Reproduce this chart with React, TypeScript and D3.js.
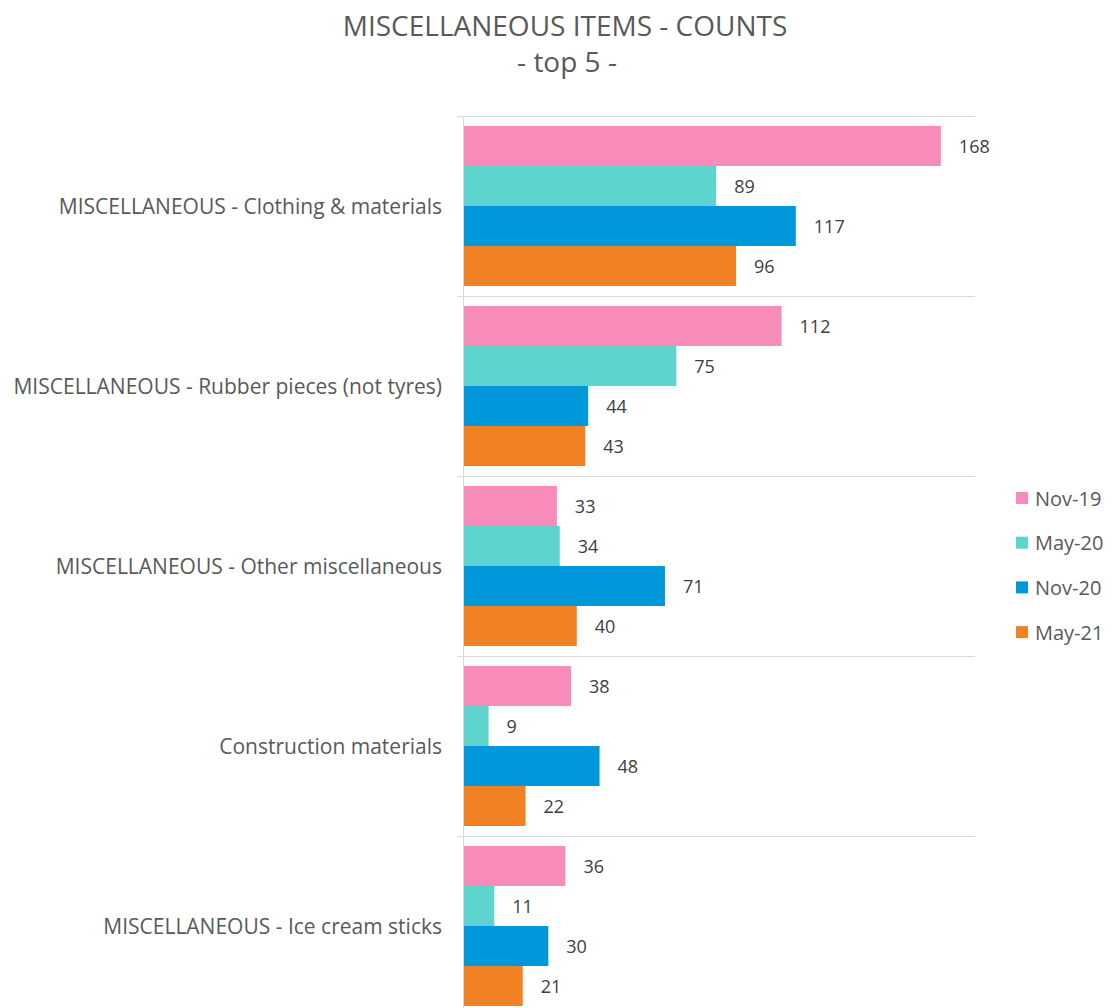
import React from "react";
import * as d3 from "d3";

const categories = [
  "MISCELLANEOUS - Clothing & materials",
  "MISCELLANEOUS - Rubber pieces (not tyres)",
  "MISCELLANEOUS - Other miscellaneous",
  "Construction materials",
  "MISCELLANEOUS - Ice cream sticks",
];
const seriesNames = ["Nov-19", "May-20", "Nov-20", "May-21"];
const nov19 = [168, 112, 33, 38, 36];
const may20 = [89, 75, 34, 9, 11];
const nov20 = [117, 44, 71, 48, 30];
const may21 = [96, 43, 40, 22, 21];
const seriesValues = [nov19, may20, nov20, may21];
const colors = ["#F78CBB", "#5DD4CE", "#0098DA", "#F08223"];
const xMax = 180;

const FONT = "'Open Sans', 'Liberation Sans', sans-serif";

export default function App() {
  const W = 1113;
  const H = 1008;
  const left = 463;
  const top = 116;
  const plotRight = 975;
  const bandH = 180;

  const x = d3.scaleLinear().domain([0, xMax]).range([left, plotRight]);
  const y = d3
    .scaleBand<string>()
    .domain(categories)
    .range([top, top + bandH * categories.length])
    .padding(0);
  const inner = d3
    .scaleBand<string>()
    .domain(seriesNames)
    .range([10, bandH - 10])
    .padding(0);

  const gridYs = [...categories.map((c) => y(c) as number), top + bandH * categories.length];

  return (
    <svg
      width={W}
      height={H}
      style={{ position: "absolute", left: 0, top: 0, background: "#fff" }}
      fontFamily={FONT}
    >
      <rect x={0} y={0} width={W} height={H} fill="#fff" />
      <text x={565} y={36} textAnchor="middle" fontSize={28} fill="#595959">
        MISCELLANEOUS ITEMS - COUNTS
      </text>
      <text x={567} y={72} textAnchor="middle" fontSize={28} fill="#595959">
        - top 5 -
      </text>

      {gridYs.map((gy, i) => (
        <line key={"g" + i} x1={457} x2={plotRight} y1={gy + 0.5} y2={gy + 0.5} stroke="#D9D9D9" strokeWidth={1} />
      ))}
      <line x1={left + 0.5} x2={left + 0.5} y1={top} y2={top + bandH * categories.length} stroke="#D9D9D9" />

      {categories.map((c, ci) => (
        <g key={c}>
          <text
            x={442}
            y={(y(c) as number) + bandH / 2}
            textAnchor="end"
            dominantBaseline="central"
            fontSize={21}
            fill="#595959"
          >
            {c}
          </text>
          {seriesNames.map((s, si) => {
            const v = seriesValues[si][ci];
            const by = (y(c) as number) + (inner(s) as number);
            const bh = inner.bandwidth();
            return (
              <g key={s}>
                <rect x={x(0) + 1} y={by} width={x(v) - x(0) - 1} height={bh} fill={colors[si]} />
                <text
                  x={x(v) + 18}
                  y={by + bh / 2}
                  dominantBaseline="central"
                  fontSize={18}
                  fill="#404040"
                >
                  {v}
                </text>
              </g>
            );
          })}
        </g>
      ))}

      {seriesNames.map((s, si) => (
        <g key={"l" + s} transform={`translate(1016, ${498 + si * 44.7})`}>
          <rect x={0} y={-6} width={12} height={12} fill={colors[si]} />
          <text x={19} y={0} dominantBaseline="central" fontSize={20} fill="#595959">
            {s}
          </text>
        </g>
      ))}
    </svg>
  );
}
